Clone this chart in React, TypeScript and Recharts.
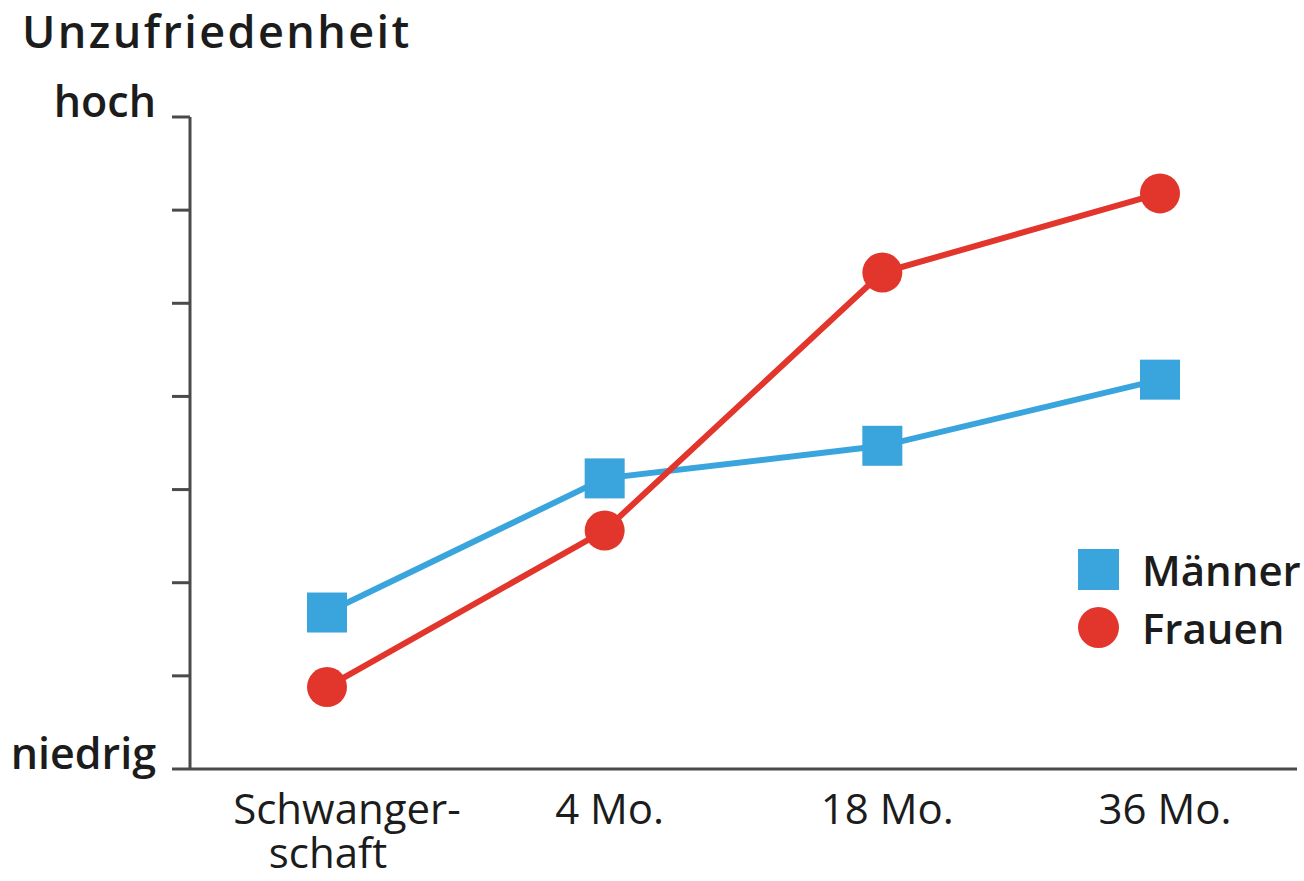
import { Line, LineChart, XAxis, YAxis } from 'recharts';

// Survey waves along the x axis ("\n" splits the first label over two lines)
const periods = ['Schwanger-\nschaft', '4 Mo.', '18 Mo.', '36 Mo.'];
// Dissatisfaction on an unlabelled 0..7 scale
const maenner = [1.68, 3.12, 3.47, 4.18];
const frauen = [0.88, 2.56, 5.33, 6.18];
const levelTicks = [0, 1, 2, 3, 4, 5, 6, 7];
const levelLabels: Record<number, string> = { 0: 'niedrig', 7: 'hoch' };
const seriesKeys = ['maenner', 'frauen'] as const;
const seriesNames: Record<string, string> = { maenner: 'Männer', frauen: 'Frauen' };

const BLUE = '#3aa5dc';
const RED = '#e2362d';
const AXIS = '#4a4a4a';
const INK = '#1c1c1c';
const FONT = '"Open Sans", sans-serif';
const seriesColors: Record<string, string> = { maenner: BLUE, frauen: RED };

const data = periods.map((period, i) => ({
  period,
  maenner: maenner[i],
  frauen: frauen[i],
}));

function SquareDot({ cx, cy }: any) {
  if (cx == null || cy == null) return <g />;
  return <rect x={cx - 20} y={cy - 20} width={40} height={40} fill={BLUE} />;
}

function LevelTick({ x, y, payload }: any) {
  const label = levelLabels[payload.value];
  if (!label) return <g />;
  return (
    <text x={x} y={y} textAnchor="end" fontFamily={FONT} fontWeight={600} fontSize={43} fill={INK}>
      {label}
    </text>
  );
}

function PeriodTick({ x, y, payload }: any) {
  const lines = String(payload.value).split('\n');
  return (
    <g>
      {lines.map((line, i) => {
        // hyphenated first line sits a little right of the point
        const shift = lines.length > 1 ? (i === 0 ? 20 : 1) : 5;
        return (
          <text
            key={line}
            x={x + shift}
            y={y + 47 + i * 44}
            textAnchor="middle"
            fontFamily={FONT}
            fontSize={42}
            fill={INK}
          >
            {line}
          </text>
        );
      })}
    </g>
  );
}

function KeyBox() {
  return (
    <div
      style={{
        position: 'absolute',
        left: 1078,
        top: 540,
        fontFamily: FONT,
        fontSize: 42,
        fontWeight: 600,
        color: INK,
      }}
    >
      {seriesKeys.map((key) => (
        <div key={key} style={{ display: 'flex', alignItems: 'center', height: 58 }}>
          <div
            style={{
              width: 41,
              height: 41,
              background: seriesColors[key],
              borderRadius: key === 'frauen' ? '50%' : 0,
              marginRight: 23,
            }}
          />
          <span>{seriesNames[key]}</span>
        </div>
      ))}
    </div>
  );
}

export default function App() {
  return (
    <div style={{ position: 'absolute', left: 0, top: 0, width: 1304, height: 881, background: '#fff' }}>
      <div
        style={{
          position: 'absolute',
          left: 22,
          top: 0,
          fontFamily: FONT,
          fontWeight: 600,
          fontSize: 45,
          letterSpacing: 2.4,
          lineHeight: '61px',
          color: INK,
        }}
      >
        Unzufriedenheit
      </div>
      <LineChart
        width={1304}
        height={881}
        data={data}
        margin={{ top: 117, right: 7, bottom: 12, left: 0 }}
      >
        <XAxis
          dataKey="period"
          height={100}
          padding={{ left: 137, right: 137 }}
          axisLine={{ stroke: AXIS, strokeWidth: 3 }}
          tickLine={false}
          tick={<PeriodTick />}
          interval={0}
        />
        <YAxis
          width={190}
          domain={[0, 7]}
          ticks={levelTicks}
          tickSize={18}
          tickMargin={16}
          axisLine={{ stroke: AXIS, strokeWidth: 3 }}
          tickLine={{ stroke: AXIS, strokeWidth: 3 }}
          tick={<LevelTick />}
          interval={0}
        />
        <Line
          type="linear"
          dataKey="maenner"
          name={seriesNames.maenner}
          stroke={BLUE}
          strokeWidth={6}
          dot={<SquareDot />}
          activeDot={false}
          isAnimationActive={false}
        />
        <Line
          type="linear"
          dataKey="frauen"
          name={seriesNames.frauen}
          stroke={RED}
          strokeWidth={6}
          dot={{ r: 20, fill: RED, stroke: RED, strokeWidth: 0 }}
          activeDot={false}
          isAnimationActive={false}
        />
      </LineChart>
      <KeyBox />
    </div>
  );
}
